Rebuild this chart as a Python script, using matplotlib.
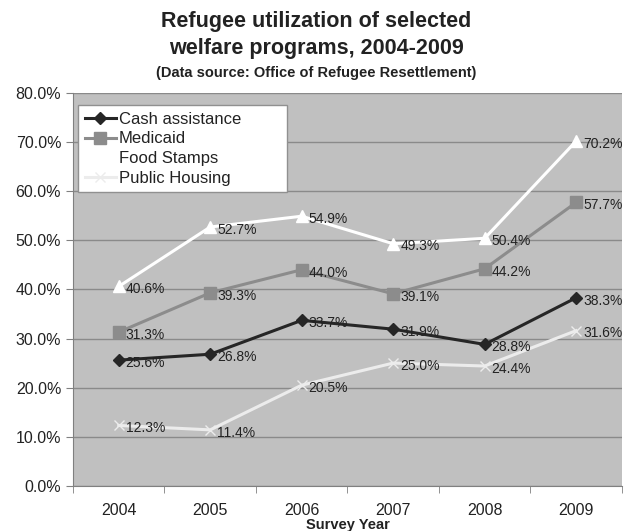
import matplotlib.pyplot as plt
from matplotlib.ticker import FixedLocator

plt.rcParams['font.family'] = ['Liberation Sans', 'DejaVu Sans']

years = ['2004', '2005', '2006', '2007', '2008', '2009']
cash = [25.6, 26.8, 33.7, 31.9, 28.8, 38.3]
medicaid = [31.3, 39.3, 44.0, 39.1, 44.2, 57.7]
food_stamps = [40.6, 52.7, 54.9, 49.3, 50.4, 70.2]
public_housing = [12.3, 11.4, 20.5, 25.0, 24.4, 31.6]

fig = plt.figure(figsize=(6.32, 5.31), dpi=100)
ax = fig.add_axes([0.1155, 0.085, 0.8685, 0.740])
ax.set_facecolor('#c0c0c0')

x = list(range(len(years)))

# serie: (nome, valori, colore, marker, size)
series = [
    ('Cash assistance', cash, '#262626', 'D', 6),
    ('Medicaid', medicaid, '#8c8c8c', 's', 9),
    ('Food Stamps', food_stamps, '#ffffff', '^', 9),
    ('Public Housing', public_housing, '#ececec', 'x', 7),
]

for name, vals, col, mk, ms in series:
    ax.plot(x, vals, color=col, lw=2.2, marker=mk, markersize=ms,
            markeredgecolor=col, markerfacecolor=col, label=name, zorder=3)
    for xi, v in zip(x, vals):
        ax.annotate(f"{v:.1f}%", (xi, v), xytext=(5, -2), textcoords='offset points',
                    ha='left', va='center', fontsize=10, color='#222222', zorder=4)

ax.set_xlim(-0.5, 5.5)
ax.set_ylim(0, 80)
ax.set_yticks(range(0, 81, 10))
ax.set_yticklabels([f"{t:.1f}%" for t in range(0, 81, 10)], fontsize=11.5, color='#222222')
ax.yaxis.grid(True, color='#8a8a8a', lw=1)
ax.set_axisbelow(True)

ax.set_xticks(x)
ax.set_xticklabels(years, fontsize=11.5, color='#222222')
ax.tick_params(axis='x', length=0, pad=12)
ax.xaxis.set_minor_locator(FixedLocator([i - 0.5 for i in range(7)]))
ax.tick_params(axis='x', which='minor', length=5, color='#808080')
ax.tick_params(axis='y', length=5, color='#808080')
ax.set_xlabel('Survey Year', fontsize=10.5, fontweight='bold', labelpad=0.5, color='#222222')

for s in ['top', 'right']:
    ax.spines[s].set_visible(False)
for s in ['left', 'bottom']:
    ax.spines[s].set_color('#808080')

leg = ax.legend(loc='upper left', bbox_to_anchor=(0.009, 0.969, 0.381, 0.0), mode='expand',
                borderaxespad=0, fontsize=12, frameon=True, fancybox=False,
                handlelength=1.9, handletextpad=0.15, labelspacing=0.28, borderpad=0.4)
leg.get_frame().set_facecolor('#ffffff')
leg.get_frame().set_edgecolor('#909090')
leg.get_frame().set_alpha(1)
for t in leg.get_texts():
    t.set_color('#222222')

fig.text(0.5, 0.9586, 'Refugee utilization of selected', ha='center', va='center',
         fontsize=15.5, fontweight='bold', color='#222222')
fig.text(0.5, 0.9096, 'welfare programs, 2004-2009', ha='center', va='center',
         fontsize=15.5, fontweight='bold', color='#222222')
fig.text(0.5, 0.8625, '(Data source: Office of Refugee Resettlement)', ha='center', va='center',
         fontsize=10.5, fontweight='bold', color='#222222')

fig.savefig('out.png', dpi=100, facecolor='white')
